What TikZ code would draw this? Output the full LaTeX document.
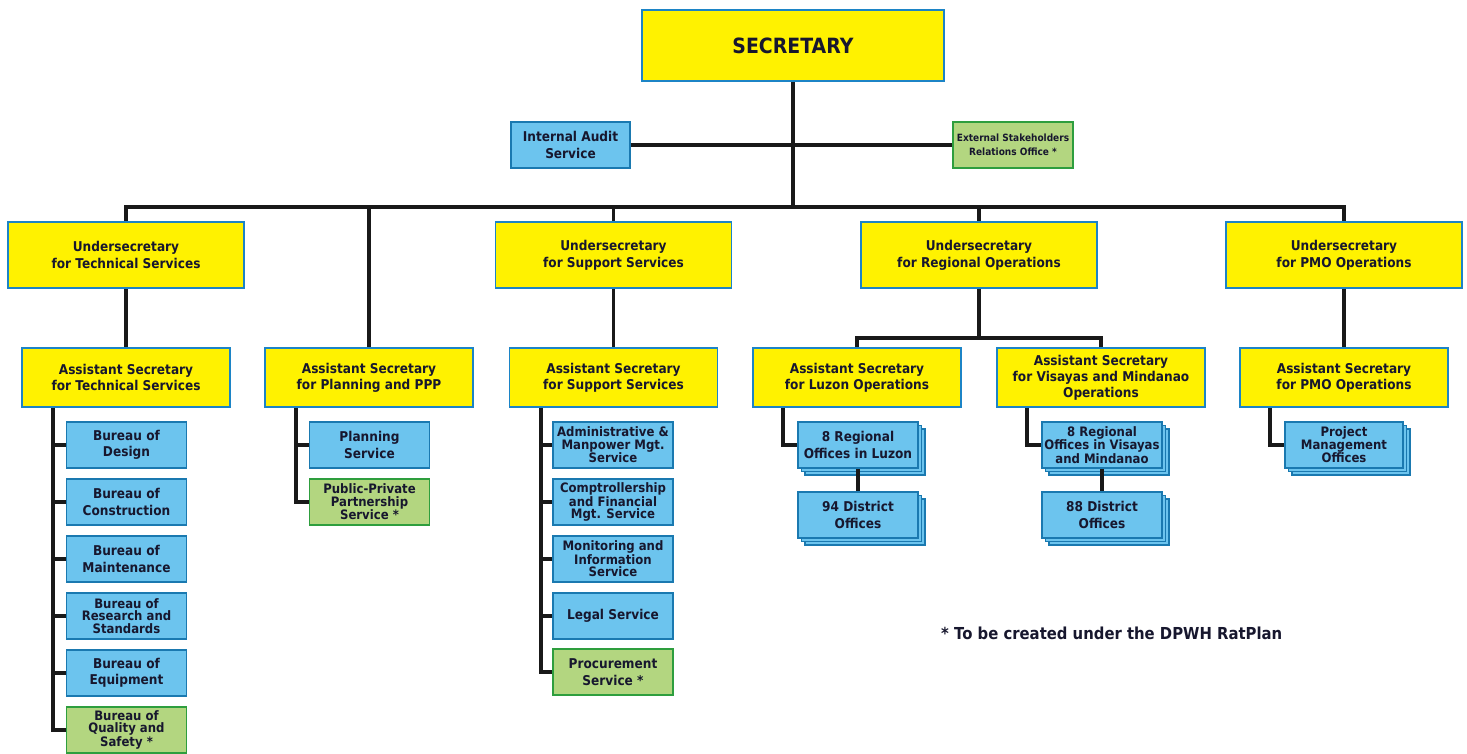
\documentclass[tikz,border=0pt]{standalone}
\usepackage{fontspec}
\setmainfont{DejaVu Sans}[FakeStretch=0.9]
\usetikzlibrary{shadows}
\definecolor{ylw}{HTML}{FFF200}
\definecolor{ylwedge}{HTML}{1C84C6}
\definecolor{bluefill}{HTML}{6CC4EE}
\definecolor{blueedge}{HTML}{1A79B0}
\definecolor{grnfill}{HTML}{B3D680}
\definecolor{grnedge}{HTML}{2E9E3E}
\definecolor{ink}{HTML}{17172E}
\tikzset{
  box/.style={rectangle, inner sep=0pt, align=center, text=ink, line width=1.8pt, font=\bfseries},
  ybox/.style={box, fill=ylw, draw=ylwedge, minimum width=236pt, minimum height=66pt,
    font=\bfseries\fontsize{13.5}{17}\selectfont},
  abox/.style={box, fill=ylw, draw=ylwedge, minimum width=208pt, minimum height=59pt,
    font=\bfseries\fontsize{13.5}{16}\selectfont},
  bbox/.style={box, fill=bluefill, draw=blueedge, minimum width=120pt, minimum height=46pt,
    font=\bfseries\fontsize{13.5}{16.5}\selectfont},
  gbox/.style={bbox, fill=grnfill, draw=grnedge},
  tight/.style={font=\bfseries\fontsize{13}{12.5}\selectfont},
  stackbox/.style={bbox, double copy shadow={shadow xshift=3.5pt, shadow yshift=-3.5pt}},
  link/.style={line width=3.2pt, draw=black!90}
}
\begin{document}
\begin{tikzpicture}[x=1pt,y=-1pt]
\useasboundingbox (0,0) rectangle (1467,753);

% top level
\node[box, fill=ylw, draw=ylwedge, minimum width=302pt, minimum height=71pt,
  font=\bfseries\fontsize{21}{24}\selectfont] (sec) at (793,45.5) {SECRETARY};
\node[bbox, font=\bfseries\fontsize{13.5}{17}\selectfont, minimum width=119pt] (ias) at (570.5,145) {Internal Audit\\Service};
\node[gbox, font=\bfseries\fontsize{10}{14}\selectfont, minimum width=120pt] (esro) at (1013,145) {External Stakeholders\\Relations Office *};

% undersecretaries
\node[ybox] (us1) at (126,255) {Undersecretary\\for Technical Services};
\node[ybox] (us2) at (613.5,255) {Undersecretary\\for Support Services};
\node[ybox] (us3) at (979,255) {Undersecretary\\for Regional Operations};
\node[ybox] (us4) at (1344,255) {Undersecretary\\for PMO Operations};

% assistant secretaries
\node[abox] (as1) at (126,377.5) {Assistant Secretary\\for Technical Services};
\node[abox] (as2) at (369,377.5) {Assistant Secretary\\for Planning and PPP};
\node[abox] (as3) at (613.5,377.5) {Assistant Secretary\\for Support Services};
\node[abox] (asl) at (857,377.5) {Assistant Secretary\\for Luzon Operations};
\node[abox] (asv) at (1101,377.5) {Assistant Secretary\\for Visayas and Mindanao\\Operations};
\node[abox] (as6) at (1344,377.5) {Assistant Secretary\\for PMO Operations};

% technical services bureaus
\node[bbox] (b1) at (126.5,445) {Bureau of\\Design};
\node[bbox] (b2) at (126.5,502) {Bureau of\\Construction};
\node[bbox] (b3) at (126.5,559) {Bureau of\\Maintenance};
\node[bbox, tight] (b4) at (126.5,616) {Bureau of\\Research and\\Standards};
\node[bbox] (b5) at (126.5,673) {Bureau of\\Equipment};
\node[gbox, tight] (b6) at (126.5,730) {Bureau of\\Quality and\\Safety *};

% planning and PPP
\node[bbox] (p1) at (369.5,445) {Planning\\Service};
\node[gbox, tight] (p2) at (369.5,502) {Public-Private\\Partnership\\Service *};

% support services
\node[bbox, tight] (s1) at (613,445) {Administrative \&\\Manpower Mgt.\\Service};
\node[bbox, tight] (s2) at (613,502) {Comptrollership\\and Financial\\Mgt. Service};
\node[bbox, tight] (s3) at (613,559) {Monitoring and\\Information\\Service};
\node[bbox] (s4) at (613,616) {Legal Service};
\node[gbox] (s5) at (613,672) {Procurement\\Service *};

% regional operations
\node[stackbox] (rl) at (858,445) {8 Regional\\Offices in Luzon};
\node[stackbox] (dl) at (858,515) {94 District\\Offices};
\node[stackbox, tight] (rv) at (1102,445) {8 Regional\\Offices in Visayas\\and Mindanao};
\node[stackbox] (dv) at (1102,515) {88 District\\Offices};

% PMO operations
\node[stackbox, tight, minimum width=118pt] (pmo) at (1344,445) {Project\\Management\\Offices};

\node[anchor=west, inner sep=0pt, text=ink, font=\bfseries\fontsize{16.5}{18}\selectfont] (note) at (941,633)
  {* To be created under the DPWH RatPlan};

% junction points
\coordinate (bus) at (0,207);
\coordinate (rbus) at (0,338);
\coordinate (tspine) at (53,0);
\coordinate (pspine) at (296,0);
\coordinate (sspine) at (541,0);
\coordinate (lspine) at (783,0);
\coordinate (vspine) at (1027,0);
\coordinate (mspine) at (1270,0);

% connectors
\begin{scope}[link]
  \draw (sec.south) -- (sec.south |- bus);
  \draw (ias.east) -- (esro.west);
  \draw (us1.north) -- (us1.north |- bus) -- (us4.north |- bus) -- (us4.north);
  \draw (as2.north |- bus) -- (as2.north);
  \draw (us2.north |- bus) -- (us2.north);
  \draw (us3.north |- bus) -- (us3.north);
  \draw (us1.south) -- (as1.north);
  \draw (us2.south) -- (as3.north);
  \draw (us4.south) -- (as6.north);
  \draw (us3.south) -- (us3.south |- rbus);
  \draw (asl.north) -- (asl.north |- rbus) -- (asv.north |- rbus) -- (asv.north);

  \draw (as1.south -| tspine) |- (b6.west);
  \foreach \b in {b1,b2,b3,b4,b5} \draw (\b.west) -- (\b.west -| tspine);
  \draw (as2.south -| pspine) |- (p2.west);
  \draw (p1.west) -- (p1.west -| pspine);
  \draw (as3.south -| sspine) |- (s5.west);
  \foreach \b in {s1,s2,s3,s4} \draw (\b.west) -- (\b.west -| sspine);
  \draw (asl.south -| lspine) |- (rl.west);
  \draw (asv.south -| vspine) |- (rv.west);
  \draw (as6.south -| mspine) |- (pmo.west);
  \draw (rl.south) -- (dl.north);
  \draw (rv.south) -- (dv.north);
\end{scope}
\end{tikzpicture}
\end{document}
